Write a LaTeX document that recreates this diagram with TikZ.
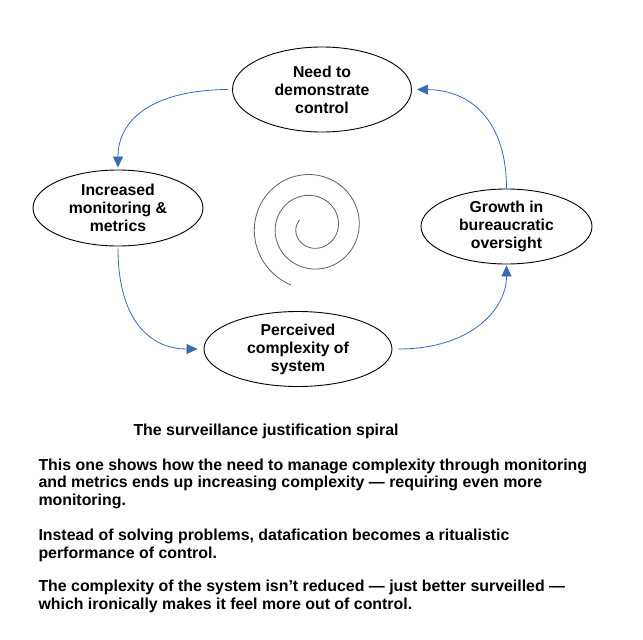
\documentclass[tikz,border=0pt]{standalone}
\usepackage{fontspec}
\setmainfont{Liberation Sans}
\usetikzlibrary{arrows.meta,shapes.geometric}
\definecolor{arrowblue}{HTML}{3A6BAF}
\definecolor{spiralgray}{HTML}{606060}
\begin{document}
\begin{tikzpicture}[x=1pt,y=-1pt,
  state/.style={ellipse, draw=black, line width=0.9pt, inner sep=0pt, align=center,
    font=\fontsize{15.8}{18}\selectfont\bfseries},
  flow/.style={draw=arrowblue, line width=0.8pt, -{Triangle[length=11pt,width=10pt]}},
  body/.style={anchor=base west, inner sep=0pt, font=\fontsize{15.9}{18}\selectfont\bfseries}]
\useasboundingbox[fill=white] (0,0) rectangle (643,640);
\node[state, minimum width=179pt, minimum height=85pt] (need) at (322,89.5) {Need to\\demonstrate\\control};
\node[state, minimum width=170pt, minimum height=76pt] (inc) at (118,208) {Increased\\monitoring \&\\metrics};
\node[state, minimum width=188pt, minimum height=75pt] (perc) at (298,349) {Perceived\\complexity of\\system};
\node[state, minimum width=171pt, minimum height=75pt] (growth) at (506.5,226.5) {Growth in\\bureaucratic\\oversight};
\draw[flow] ([xshift=-4pt]need.west) .. controls (155,90) and (118,118) .. ([yshift=2pt]inc.north);
\draw[flow] ([yshift=-2pt]inc.south) .. controls (118,320) and (150,349) .. ([xshift=-6pt]perc.west);
\draw[flow] ([xshift=6pt]perc.east) .. controls (470,349) and (506.5,310) .. ([yshift=-1pt]growth.south);
\draw[flow] (growth.north) .. controls (506.5,120) and (470,90) .. ([xshift=5pt]need.east);
\draw[spiralgray, line width=0.8pt] plot[domain=150:970, samples=250, smooth, variable=\t]
  ({312+(5.4+0.058*\t)*cos(\t)}, {227-(5.4+0.058*\t)*sin(\t)});
\node[body] (title) at (133.3,435) {The surveillance justification spiral};
\node[body] (p1a) at (38.3,470) {This one shows how the need to manage complexity through monitoring};
\node[body] (p1b) at (38.3,487.8) {and metrics ends up increasing complexity — requiring even more};
\node[body] (p1c) at (38.3,505.6) {monitoring.};
\node[body] (p2a) at (38.3,540.5) {Instead of solving problems, datafication becomes a ritualistic};
\node[body] (p2b) at (38.3,558) {performance of control.};
\node[body] (p3a) at (38.3,591.6) {The complexity of the system isn’t reduced — just better surveilled —};
\node[body] (p3b) at (38.3,609.3) {which ironically makes it feel more out of control.};
\end{tikzpicture}
\end{document}
